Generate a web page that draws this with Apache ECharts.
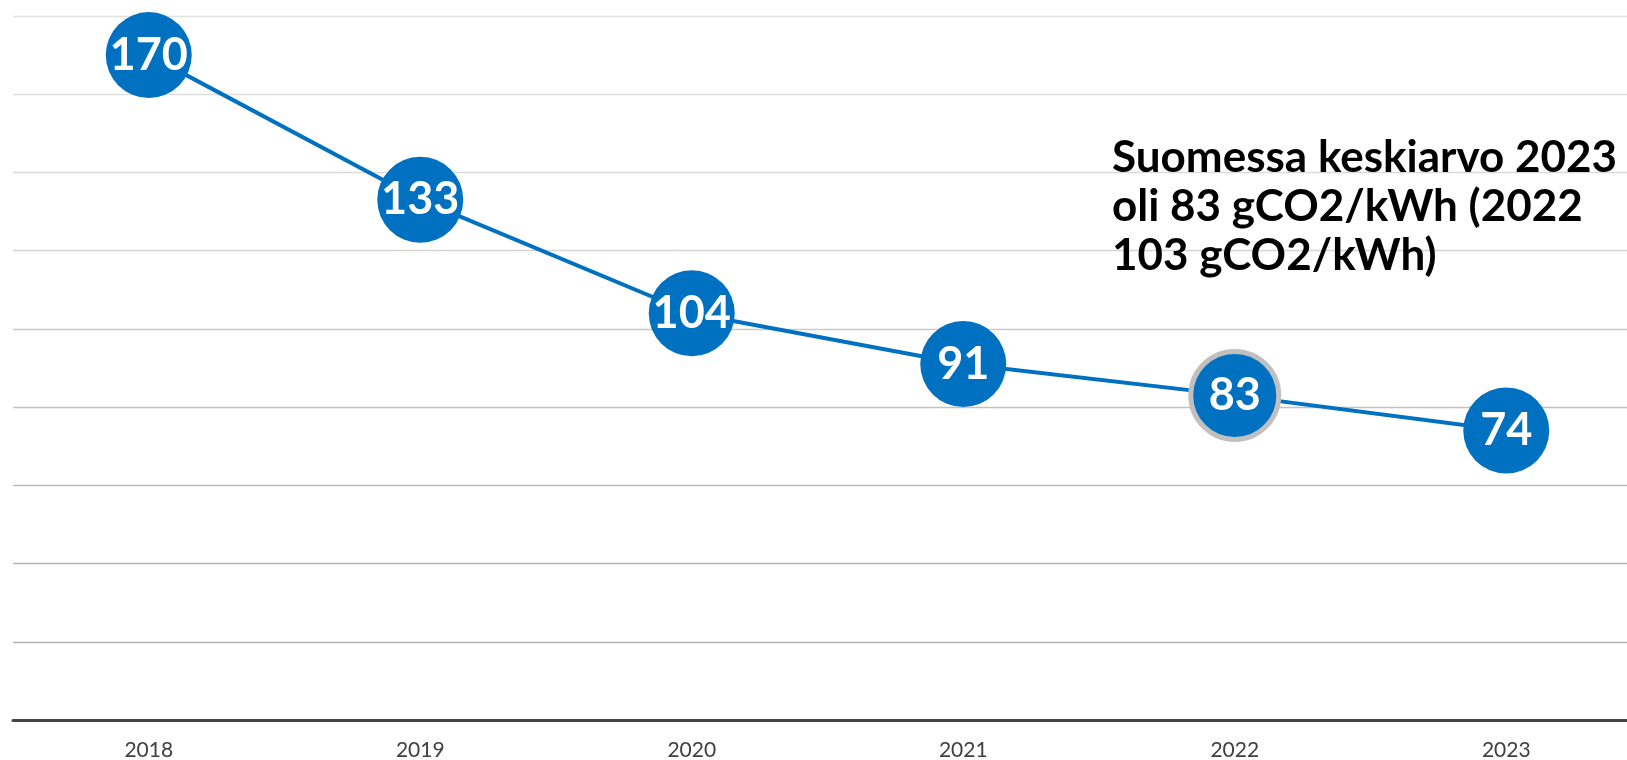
<!DOCTYPE html>
<html>
<head>
<meta charset="utf-8">
<script src="https://cdn.jsdelivr.net/npm/echarts@6/dist/echarts.min.js"></script>
<style>
  html, body { margin: 0; padding: 0; background: #fff; }
  #chart { width: 1627px; height: 760px; }
</style>
</head>
<body>
<div id="chart"></div>
<script>
const years = ['2018', '2019', '2020', '2021', '2022', '2023']
const emissions = [170, 133, 104, 91, 83, 74]
const highlightYear = '2022'
const noteLines = [
  'Suomessa keskiarvo 2023',
  'oli 83 gCO2/kWh (2022',
  '103 gCO2/kWh)'
]

const blue = '#0070C0'
// split line colours, from value 0 upwards
const splitColors = ['#444', '#b3b3b3', '#b6b6b6', '#babab9', '#c2c2c2', '#cacaca', '#d4d4d4', '#dadada', '#dfdfdf', '#e3e3e3']

const chart = echarts.init(document.getElementById('chart'))

const seriesData = emissions.map((v, i) => {
  const item = { value: v }
  if (years[i] === highlightYear) {
    item.symbolSize = 88
    item.itemStyle = { color: blue, borderColor: '#c0c0c0', borderWidth: 5 }
  }
  return item
})

chart.setOption({
  animation: false,
  grid: { left: 13, top: 16, width: 1629, height: 704, outerBoundsMode: 'none' },
  xAxis: {
    type: 'category',
    data: years,
    boundaryGap: true,
    axisLine: { lineStyle: { color: '#454545', width: 3 } },
    axisTick: { show: false },
    axisLabel: {
      color: '#404040',
      fontFamily: 'Lato',
      fontSize: 21,
      margin: 20
    }
  },
  yAxis: {
    type: 'value',
    min: 0,
    max: 180,
    interval: 20,
    axisLine: { show: false },
    axisTick: { show: false },
    axisLabel: { show: false },
    splitLine: { lineStyle: { color: splitColors, width: 1.4 } }
  },
  series: [{
    type: 'line',
    data: seriesData,
    symbol: 'circle',
    symbolSize: 86,
    lineStyle: { color: blue, width: 4 },
    itemStyle: { color: blue },
    z: 3,
    label: {
      show: true,
      position: 'inside',
      color: '#fff',
      fontFamily: 'Lato',
      fontWeight: 'bold',
      fontSize: 45
    }
  }],
  graphic: [{
    type: 'text',
    left: 1112,
    top: 133,
    z: 10,
    style: {
      text: noteLines.join('\n'),
      fill: '#000',
      font: 'bold 44px Lato',
      lineHeight: 49
    }
  }]
})
</script>
</body>
</html>
